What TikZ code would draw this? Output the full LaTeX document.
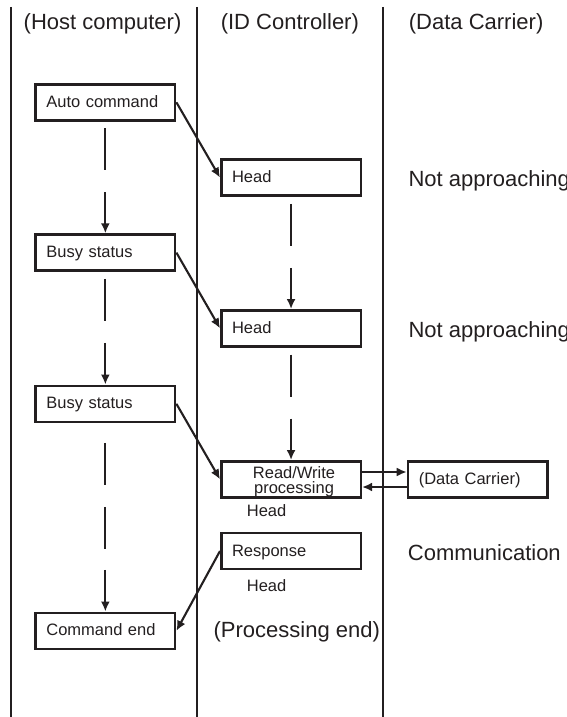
\documentclass[tikz,border=0pt]{standalone}
\usepackage{fontspec}
\setmainfont{Liberation Sans}
\usetikzlibrary{arrows.meta,calc}
\definecolor{ink}{RGB}{35,31,32}
\begin{document}
\begin{tikzpicture}[x=1pt,y=-1pt,
  lane/.style={draw=ink,line width=2.2pt},
  box/.style={draw=ink,line width=2.6pt,rectangle,anchor=north west,
    minimum width=139.5pt,minimum height=36pt,text width=118pt,
    inner xsep=10.5pt,inner ysep=0pt,align=left,
    font=\fontsize{16.5}{18}\selectfont,text=ink,text height=12pt,text depth=2pt},
  big/.style={font=\fontsize{22}{26}\selectfont,text=ink,inner sep=0pt,anchor=base west},
  small/.style={font=\fontsize{16.5}{18}\selectfont,text=ink,inner sep=0pt,anchor=base west},
  link/.style={draw=ink,line width=2.1pt,-{Latex[length=10pt,width=9pt]}},
  flow/.style={link,dash pattern=on 42pt off 22pt on 90pt},
  flowlong/.style={link,dash pattern=on 42pt off 22pt on 42pt off 21pt on 90pt},
]
\path[fill=white,use as bounding box] (0,0) rectangle (567,717);

% swim lanes
\coordinate (l1t) at (11.3,7);   \coordinate (l1b) at (11.3,717);
\coordinate (l2t) at (197.3,7);  \coordinate (l2b) at (197.3,717);
\coordinate (l3t) at (383,7);    \coordinate (l3b) at (383,717);
\draw[lane] (l1t) -- (l1b);
\draw[lane] (l2t) -- (l2b);
\draw[lane] (l3t) -- (l3b);

% headers
\node[big] (hhost) at (23.5,29.5) {(Host computer)};
\node[big] (hid) at (220.6,29.5) {(ID Controller)};
\node[big] (hdc) at (408.7,29.5) {(Data Carrier)};

% host boxes
\node[box] (auto) at (34.3,83) {Auto command};
\node[box] (busy1) at (34.3,233.3) {Busy status};
\node[box] (busy2) at (34.3,384.5) {Busy status};
\node[box] (cend) at (34.3,611.5) {Command end};

% controller boxes
\node[box] (head1) at (220,158.3) {Head};
\node[box] (head2) at (220,309) {Head};
\node[box] (rw) at (220,460) {};
\node[font=\fontsize{16.5}{14.5}\selectfont,text=ink,align=center,inner sep=0pt,anchor=north]
  (rwtext) at ($(rw.north)+(3,6.6)$) {Read/Write\\processing};
\node[box] (resp) at (220,531.7) {Response};
\node[small] (rwhead) at (246.7,516.7) {Head};
\node[small] (resphead) at (246.7,591) {Head};
\node[big] (pend) at (213.4,637.4) {(Processing end)};

% data carrier
\node[box] (dc) at (406.7,460) {(Data Carrier)};
\node[big] (na1) at (408.3,186.7) {Not approaching};
\node[big] (na2) at (408.3,337.3) {Not approaching};
\node[big] (comm) at (407.7,560.5) {Communication};

% connectors
\draw[link] (auto.east) -- (head1.west);
\draw[link] (busy1.east) -- (head2.west);
\draw[link] (busy2.east) -- (rw.west);
\draw[link] (resp.west) -- (cend.east);

\draw[flow] ($(auto.south)+(0,6.7)$) -- (busy1.north);
\draw[flow] ($(busy1.south)+(0,7)$) -- (busy2.north);
\draw[flowlong] ($(busy2.south)+(0,19.7)$) -- (cend.north);
\draw[flow] ($(head1.south)+(0,7)$) -- (head2.north);
\draw[flow] ($(head2.south)+(0,7)$) -- (rw.north);

\draw[link] ($(rw.east)+(0,-7.3)$) -- ($(dc.west)+(0,-7.3)$);
\draw[link] ($(dc.west)+(0,7.7)$) -- ($(rw.east)+(0,7.7)$);
\end{tikzpicture}
\end{document}
